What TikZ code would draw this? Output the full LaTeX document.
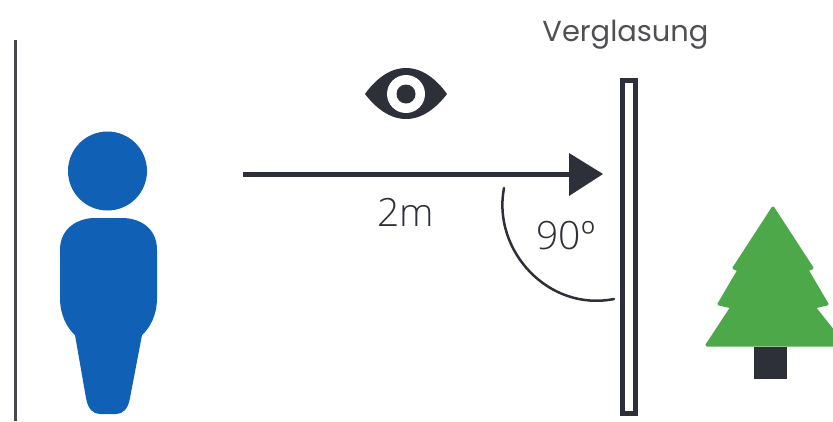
\documentclass[tikz,border=0pt]{standalone}
\usepackage{fontspec}
\setmainfont{Open Sans Light}
\newfontfamily\headfont{Poppins}
\definecolor{ink}{RGB}{45,48,56}
\definecolor{persblue}{RGB}{16,97,181}
\definecolor{treegreen}{RGB}{76,168,72}
\definecolor{labelgray}{RGB}{80,80,84}
\tikzset{
  lbl/.style={inner sep=0pt,anchor=base,text=ink,font=\fontsize{39}{39}\selectfont},
  headlbl/.style={inner sep=0pt,anchor=base,text=labelgray,font=\headfont\fontsize{28.9}{28.9}\selectfont},
  blob/.style={line join=round}
}
\begin{document}
\begin{tikzpicture}[x=1pt,y=-1pt]
\useasboundingbox (0,0) rectangle (833,421);
\fill[white] (0,0) rectangle (833,421);
% wall
\draw[line width=3pt,ink!88] (15,40) -- (15,421);
% person
\fill[persblue] (107.5,171) circle (39.5);
\fill[persblue] (60,250) .. controls (60,228) and (78,218) .. (95,218)
  -- (122,218) .. controls (140,218) and (157,228) .. (157,250)
  -- (157,298) .. controls (157,315) and (150,328) .. (142,335)
  -- (130,398) .. controls (128,409) and (123,414) .. (116,414)
  -- (100,414) .. controls (93,414) and (88,409) .. (86,398)
  -- (75,335) .. controls (67,328) and (60,315) .. (60,298) -- cycle;
% eye
\fill[ink] (365,94) .. controls (375,80) and (389,68) .. (406,68)
  .. controls (423,68) and (437,80) .. (447,94)
  .. controls (437,107) and (423,119) .. (406,119)
  .. controls (389,119) and (375,107) .. (365,94) -- cycle;
\fill[white] (406,94) circle (19);
\fill[ink] (406,94) circle (9.5);
% arrow
\coordinate (arrowstart) at (243,174);
\coordinate (arrowtip) at (603,174);
\draw[line width=5pt,ink] (arrowstart) -- (570,174);
\fill[ink] (569,153) -- (arrowtip) -- (569,196) -- cycle;
% glazing
\node[draw=ink,line width=5pt,minimum width=13pt,minimum height=333pt,inner sep=0pt,outer sep=0pt,anchor=center] (glass) at (629,247) {};
% angle
\coordinate (arcstart) at (504,188);
\coordinate (arcend) at (614,299);
\draw[line width=2.5pt,ink,line cap=round] (arcstart) .. controls (492,250) and (548,312) .. (arcend);
% labels
\node[headlbl] (verglasung) at (625.5,41) {Verglasung};
\node[lbl] (dist) at (405.5,226) {2m};
\node[lbl] (angle) at (566,249) {90º};
% tree
\fill[treegreen,draw=treegreen,line width=3pt,blob] (773,208) -- (812,268) -- (807,270) -- (827,304) -- (814,307) -- (833,331) -- (833,345) -- (707,345) -- (732,307) -- (719,304) -- (739,270) -- (734,268) -- cycle;
\fill[ink] (754,347) rectangle (787,379);
\end{tikzpicture}
\end{document}
